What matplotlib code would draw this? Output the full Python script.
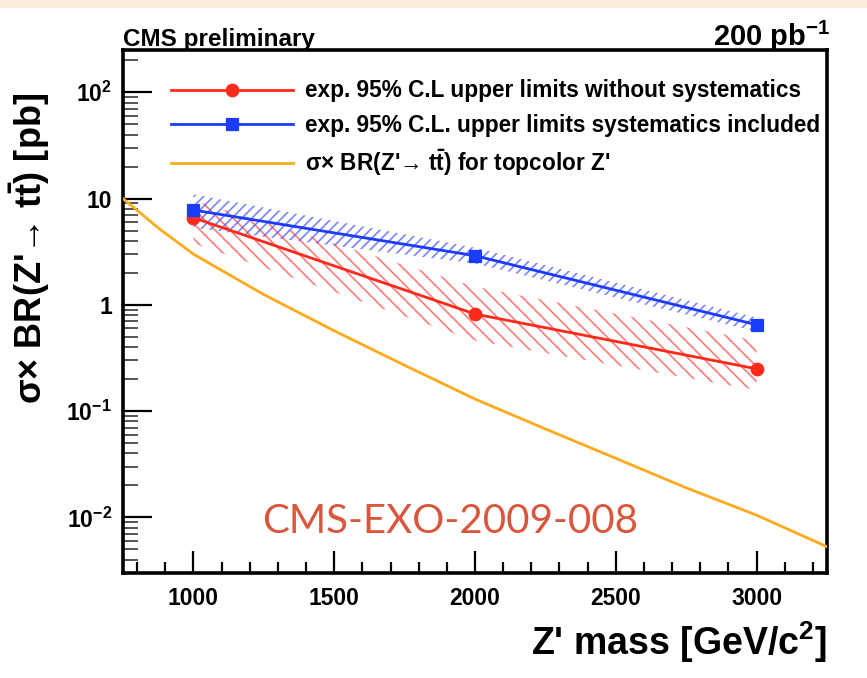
import matplotlib
matplotlib.use("Agg")
import matplotlib.pyplot as plt
from matplotlib.ticker import FixedLocator, MultipleLocator, LogLocator, NullFormatter
from matplotlib.patches import Rectangle

# ---------------- data ----------------
mass_pts = [1000, 2000, 3000]
limit_nosys = [6.6, 0.82, 0.25]
band_nosys_lo = [3.8, 0.46, 0.158]
band_nosys_hi = [9.6, 1.48, 0.46]
limit_sys = [7.8, 2.9, 0.65]
band_sys_lo = [5.3, 2.45, 0.56]
band_sys_hi = [11.0, 3.45, 0.76]

theory_mass = [750, 875, 1000, 1250, 1500, 1750, 2000, 2250, 2500, 2750, 3000, 3250]
theory_xsec = [10.0, 5.3, 3.0, 1.25, 0.57, 0.27, 0.13, 0.068, 0.036, 0.019, 0.0105, 0.0053]

x_ticks = [1000, 1500, 2000, 2500, 3000]
y_ticks = [0.01, 0.1, 1, 10, 100]
y_ticklabels = [r"10$^{\mathbf{-2}}$", r"10$^{\mathbf{-1}}$", "1", "10", r"10$^{\mathbf{2}}$"]

leg_labels = ["exp. 95% C.L upper limits without systematics",
              "exp. 95% C.L. upper limits systematics included",
              r"σ× BR(Z'→ $\mathbf{t\bar{t}}$) for topcolor Z'"]

# ---------------- style ----------------
DPI = 90
K = 100.0 / DPI  # keep pixel sizes as designed for 100 dpi


def P(v):
    return v * K


FONT = ["Liberation Sans", "DejaVu Sans"]
plt.rcParams["font.family"] = FONT
plt.rcParams["mathtext.fontset"] = "custom"
plt.rcParams["mathtext.rm"] = "Liberation Sans"
plt.rcParams["mathtext.bf"] = "Liberation Sans:bold"
plt.rcParams["mathtext.it"] = "Liberation Sans:italic"
plt.rcParams["mathtext.sf"] = "Liberation Sans"
plt.rcParams["hatch.linewidth"] = P(1.2)

RED = "#ff2a1a"
BLUE = "#1a3cff"
ORANGE = "#ffaa1a"

fig = plt.figure(figsize=(867 / DPI, 678 / DPI), dpi=DPI)
fig.patch.set_facecolor("white")
fig.patches.append(Rectangle((0, 1 - 8 / 678), 1, 8 / 678, transform=fig.transFigure,
                             facecolor="#fcebd9", edgecolor="none", zorder=0))

ax = fig.add_axes([123 / 867, 1 - 573 / 678, (827 - 123) / 867, (573 - 50) / 678])
ax.set_yscale("log")
ax.set_xlim(750, 3250)
ax.set_ylim(0.003, 250)

# bands (hatched)
ax.fill_between(mass_pts, band_nosys_lo, band_nosys_hi, facecolor="none",
                edgecolor=(1.0, 0.3, 0.3, 0.75), hatch="\\\\", linewidth=0, zorder=2)
ax.fill_between(mass_pts, band_sys_lo, band_sys_hi, facecolor="none",
                edgecolor=(0.3, 0.35, 1.0, 0.75), hatch="///", linewidth=0, zorder=2)

# lines
ax.plot(theory_mass, theory_xsec, color=ORANGE, lw=P(2.0), zorder=3, label=leg_labels[2])
ax.plot(mass_pts, limit_nosys, color=RED, lw=P(2.0), marker="o", ms=P(9), zorder=4,
        label=leg_labels[0])
ax.plot(mass_pts, limit_sys, color=BLUE, lw=P(2.0), marker="s", ms=P(8.5), zorder=4,
        label=leg_labels[1])

handles, labels = ax.get_legend_handles_labels()
order = [1, 2, 0]
ax.legend([handles[i] for i in order], [labels[i] for i in order],
          loc="upper left", bbox_to_anchor=(0.055, 0.961), frameon=False,
          handlelength=5.4, handletextpad=0.55, labelspacing=0.5, borderaxespad=0.0,
          prop={"family": FONT, "weight": "bold", "size": P(16.3)})

# ticks
ax.xaxis.set_major_locator(FixedLocator(x_ticks))
ax.xaxis.set_minor_locator(MultipleLocator(100))
ax.set_xticklabels([str(t) for t in x_ticks])
ax.yaxis.set_major_locator(FixedLocator(y_ticks))
ax.set_yticklabels(y_ticklabels)
ax.yaxis.set_minor_locator(LogLocator(base=10, subs=range(2, 10), numticks=20))
ax.yaxis.set_minor_formatter(NullFormatter())
ax.tick_params(which="both", direction="in", top=False, right=False, width=P(1.6), color="black")
ax.tick_params(axis="y", which="major", length=P(21), pad=P(8))
ax.tick_params(axis="y", which="minor", length=P(11), color="#555555", width=P(1.4))
ax.tick_params(axis="x", which="major", length=P(16), pad=P(10))
ax.tick_params(axis="x", which="minor", length=P(8))
for lab in ax.get_xticklabels() + ax.get_yticklabels():
    lab.set_fontweight("bold")
    lab.set_fontsize(P(16.5))
for s in ax.spines.values():
    s.set_linewidth(P(2.6))

# texts
fig.text(123 / 867, 1 - 46 / 678, "CMS preliminary", ha="left", va="baseline",
         fontsize=P(17.5), fontweight="bold")
fig.text(830 / 867, 1 - 46 / 678, r"200 pb$^{\mathbf{-1}}$", ha="right", va="baseline",
         fontsize=P(21), fontweight="bold")
fig.text(827 / 867, 1 - 655 / 678, r"Z' mass [GeV/c$^{\mathbf{2}}$]", ha="right",
         va="baseline", fontsize=P(27), fontweight="bold")
fig.text(30 / 867, 1 - 93 / 678, r"σ× BR(Z'→ $\mathbf{t\bar{t}}$) [pb]", rotation=90,
         ha="center", va="top", fontsize=P(26), fontweight="bold")
fig.text(450 / 867, 1 - 533 / 678, "CMS-EXO-2009-008", ha="center", va="baseline",
         fontsize=P(29), color="#d9573c",
         family=["Lato", "DejaVu Sans"], fontweight="normal")

fig.savefig("out.png", dpi=DPI, facecolor="white")
